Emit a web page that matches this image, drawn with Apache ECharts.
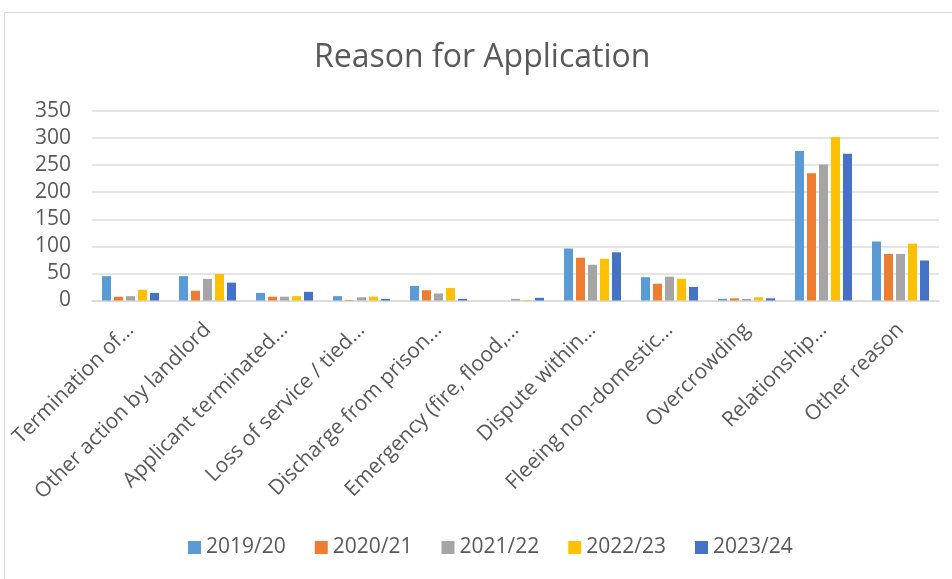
<!DOCTYPE html>
<html>
<head>
<meta charset="utf-8">
<script src="https://cdn.jsdelivr.net/npm/echarts@6/dist/echarts.min.js"></script>
<style>html,body{margin:0;padding:0;background:#fff}#c{width:952px;height:579px}</style>
</head>
<body>
<div id="c"></div>
<script>
const categories = ["Termination of...","Other action by landlord","Applicant terminated...","Loss of service / tied...","Discharge from prison...","Emergency (fire, flood,...","Dispute within...","Fleeing non-domestic...","Overcrowding","Relationship...","Other reason"];
const seriesNames = ["2019/20","2020/21","2021/22","2022/23","2023/24"];
const v2019 = [45, 45, 14, 8, 27, 0, 96, 43, 3, 276, 109];
const v2020 = [7, 18, 7, 1, 19, 0, 79, 31, 4, 235, 86];
const v2021 = [8, 40, 7, 6, 13, 3, 66, 44, 3, 251, 86];
const v2022 = [20, 49, 8, 7, 23, 1, 77, 40, 6, 302, 105];
const v2023 = [14, 33, 16, 3, 3, 5, 89, 25, 4, 271, 74];
const yTicks = [0, 50, 100, 150, 200, 250, 300, 350];
const colors = ["#5B9BD5","#ED7D31","#A5A5A5","#FFC000","#4472C4"];
const values = [v2019, v2020, v2021, v2022, v2023];
const font = "'Open Sans', sans-serif";
const chart = echarts.init(document.getElementById('c'), null, {renderer:'canvas'});
chart.setOption({
  animation:false,
  color: colors,
  graphic:[{type:'rect', shape:{x:4.5,y:12.5,width:1000,height:1000}, style:{fill:'none', stroke:'#d9d9d9', lineWidth:1}, silent:true}],
  title:{text:'Reason for Application', left:309, top:37, textStyle:{fontFamily:font, fontSize:32, fontWeight:'normal', color:'#595959'}},
  legend:{bottom:16, left:183, itemWidth:13, itemHeight:13, itemGap:29, icon:'rect', textStyle:{fontFamily:font, fontSize:21, color:'#595959'}, data:seriesNames},
  grid:{left:92, right:13, top:111, bottom:278.5, containLabel:false},
  xAxis:{type:'category', data:categories, axisTick:{show:false}, axisLine:{lineStyle:{color:'#d9d9d9', width:1.5}},
    axisLabel:{interval:0, rotate:45, margin:26, fontFamily:font, fontSize:21, color:'#595959'}},
  yAxis:{type:'value', min:yTicks[0], max:yTicks[yTicks.length-1], interval:50, axisLine:{show:false}, axisTick:{show:false},
    splitLine:{lineStyle:{color:'#dcdcdc', width:1.5}},
    axisLabel:{margin:21, fontFamily:font, fontSize:21, color:'#595959'}},
  series: seriesNames.map((n,i)=>({name:n, type:'bar', data:values[i], barGap:'33%', barCategoryGap:'26%', itemStyle:{color:colors[i]}}))
});
</script>
</body>
</html>
